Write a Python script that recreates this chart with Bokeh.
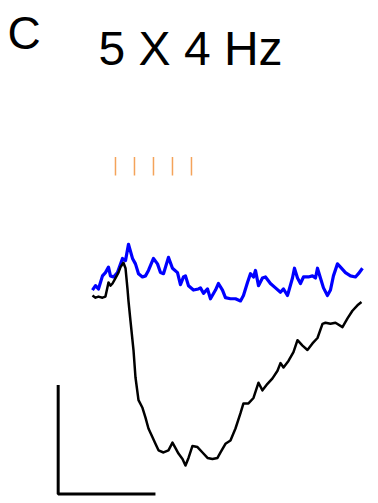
from bokeh.plotting import figure
from bokeh.models import Range1d, Label
from bokeh.embed import file_html
from bokeh.resources import INLINE

# Stimulus train: 5 pulses at 4 Hz (ms, relative to first pulse)
stim_ms = [0, 250, 500, 750, 1000]
stim_v = [1.10, 1.27]  # vertical extent of the stimulus markers

# Control trace (black), time in ms and signal in scale-bar units
black_t = [-303, -263, -224, -171, -132, -92, -66, -39, 0, 39, 66, 105, 132, 158, 171,
           197, 237, 263, 303, 355, 395, 434, 487, 526, 566, 632, 697, 750, 790, 829,
           882, 921, 961, 1013, 1079, 1145, 1211, 1276, 1342, 1382, 1447, 1513, 1579,
           1645, 1684, 1750, 1816, 1882, 1934, 2000, 2066, 2132, 2171, 2211, 2276,
           2342, 2395, 2461, 2526, 2592, 2658, 2724, 2763, 2829, 2895, 2987, 3053,
           3118, 3184, 3237]
black_v = [0.00, -0.02, -0.01, -0.02, -0.01, 0.12, 0.09, 0.11, 0.16, 0.21, 0.26, 0.30,
           0.25, 0.06, -0.05, -0.23, -0.50, -0.75, -0.96, -1.03, -1.12, -1.22, -1.30,
           -1.36, -1.42, -1.44, -1.42, -1.35, -1.40, -1.45, -1.50, -1.56, -1.49, -1.38,
           -1.39, -1.44, -1.49, -1.50, -1.49, -1.44, -1.36, -1.33, -1.22, -1.08, -0.99,
           -0.99, -0.94, -0.80, -0.87, -0.81, -0.76, -0.69, -0.62, -0.66, -0.60, -0.52,
           -0.41, -0.46, -0.50, -0.44, -0.39, -0.26, -0.25, -0.26, -0.25, -0.29, -0.21,
           -0.14, -0.09, -0.06]

# Treated trace (blue)
blue_t = [-303, -263, -224, -171, -132, -92, -66, -26, 26, 92, 132, 171, 224, 263, 303,
          355, 395, 434, 500, 553, 592, 632, 697, 750, 816, 855, 895, 921, 961, 1026,
          1092, 1118, 1158, 1211, 1250, 1316, 1355, 1408, 1447, 1513, 1579, 1645, 1684,
          1737, 1776, 1816, 1842, 1882, 1934, 1974, 2039, 2105, 2171, 2211, 2263, 2276,
          2329, 2355, 2395, 2434, 2474, 2539, 2592, 2632, 2658, 2697, 2737, 2789, 2829,
          2868, 2921, 2961, 3026, 3092, 3158, 3197, 3250]
blue_v = [0.05, 0.09, 0.06, 0.18, 0.21, 0.26, 0.18, 0.17, 0.21, 0.34, 0.32, 0.47, 0.34,
          0.29, 0.20, 0.17, 0.18, 0.23, 0.34, 0.29, 0.21, 0.20, 0.35, 0.25, 0.21, 0.10,
          0.17, 0.18, 0.09, 0.05, 0.06, 0.07, 0.02, 0.06, -0.03, 0.05, 0.11, 0.05,
          -0.02, -0.03, -0.03, -0.05, 0.00, 0.12, 0.20, 0.17, 0.23, 0.09, 0.16, 0.17,
          0.11, 0.07, 0.03, 0.06, 0.00, 0.03, 0.16, 0.25, 0.16, 0.11, 0.17, 0.17, 0.18,
          0.16, 0.25, 0.16, 0.07, 0.00, 0.05, 0.18, 0.29, 0.26, 0.21, 0.18, 0.17, 0.20,
          0.25]

# Scale bar: origin (ms, units) and lengths
scale_origin = (-754, -1.82)
scale_len_ms = 1280
scale_len_v = 1.0

p = figure(width=378, height=503, output_backend="svg", toolbar_location=None,
           min_border=0, x_range=Range1d(-1513, 3461), y_range=Range1d(-1.908, 2.706))
p.axis.visible = False
p.grid.visible = False
p.outline_line_color = None
p.background_fill_color = "white"
p.border_fill_color = "white"

# stimulus markers
p.segment(x0=stim_ms, y0=[stim_v[0]] * len(stim_ms), x1=stim_ms, y1=[stim_v[1]] * len(stim_ms),
          line_color="#F4A35A", line_width=1.5)

# traces
p.line(blue_t, blue_v, line_color="#0000FF", line_width=3.2, line_join="round")
p.line(black_t, black_v, line_color="black", line_width=2.5, line_join="round")

# scale bar
sx, sy = scale_origin
p.line([sx, sx, sx + scale_len_ms], [sy + scale_len_v, sy, sy],
       line_color="black", line_width=3)

p.add_layout(Label(x=7, y=471, x_units="screen", y_units="screen", text="C",
                   text_font="Liberation Sans", text_font_size="46px",
                   text_baseline="alphabetic", text_color="black"))
p.add_layout(Label(x=98, y=455, x_units="screen", y_units="screen", text="5 X 4 Hz",
                   text_font="Liberation Sans", text_font_size="48px",
                   text_baseline="alphabetic", text_color="black"))

open("out.html", "w").write(file_html(p, INLINE))
